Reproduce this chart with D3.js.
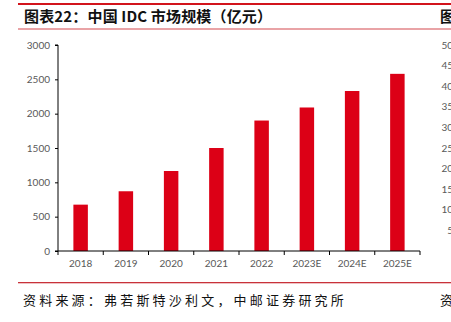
<!DOCTYPE html>
<html><head><meta charset="utf-8">
<script src="https://cdn.jsdelivr.net/npm/d3@7/dist/d3.min.js"></script>
<style>body{margin:0;background:#fff}svg{display:block}</style>
</head><body>
<script>
const categories = ["2018","2019","2020","2021","2022","2023E","2024E","2025E"];
const values = [675, 870, 1165, 1500, 1900, 2090, 2330, 2580];
const yTicks = [0, 500, 1000, 1500, 2000, 2500, 3000];
const rightTicks = [5, 10, 15, 20, 25, 30, 35, 40, 45, 50];
const title = "图表22：中国 IDC 市场规模（亿元）";
const source = "资料来源：弗若斯特沙利文，中邮证券研究所";

const W = 451, H = 322;
const svg = d3.select("body").append("svg").attr("width", W).attr("height", H);

// header lines
svg.append("rect").attr("x", 18).attr("y", 3).attr("width", W - 18).attr("height", 2).attr("fill", "#d2141c");
svg.append("rect").attr("x", 18).attr("y", 28).attr("width", W - 18).attr("height", 2).attr("fill", "#e9a3a6");
svg.append("text").attr("x", 24).attr("y", 22).text(title)
  .attr("textLength", 248).attr("lengthAdjust", "spacing")
  .attr("font-family", "'Noto Sans CJK SC'").attr("font-weight", "bold").attr("font-size", 15).attr("fill", "#111");
svg.append("text").attr("x", 440).attr("y", 22).text("图")
  .attr("font-family", "'Noto Sans CJK SC'").attr("font-weight", "bold").attr("font-size", 15).attr("fill", "#111");

// footer
svg.append("rect").attr("x", 18).attr("y", 282).attr("width", W - 18).attr("height", 1.3).attr("fill", "#c8323a");
svg.append("text").attr("x", 23).attr("y", 305).text(source)
  .attr("font-family", "'Noto Sans CJK SC'").attr("font-size", 13).attr("letter-spacing", 3.2).attr("fill", "#111");
svg.append("text").attr("x", 440).attr("y", 305).text("资")
  .attr("font-family", "'Noto Sans CJK SC'").attr("font-size", 13).attr("fill", "#111");

const x = d3.scaleBand().domain(categories).range([58, 420]).paddingInner(0.68).paddingOuter(0.34);
const y = d3.scaleLinear().domain([0, 3000]).range([251, 45]);

// bars
svg.append("g").selectAll("rect").data(values).join("rect")
  .attr("x", (d, i) => x(categories[i]))
  .attr("width", x.bandwidth())
  .attr("y", d => y(d))
  .attr("height", d => y(0) - y(d))
  .attr("fill", "#dc0016");

// y axis
const ya = svg.append("g").attr("transform", "translate(58,0)")
  .call(d3.axisLeft(y).tickValues(yTicks).tickSize(3).tickPadding(5).tickFormat(d3.format("d")));
ya.select(".domain").attr("stroke", "#000").attr("d", "M-3," + y(3000) + "H0V" + y(0) + "H-3");
ya.selectAll(".tick line").attr("stroke", "#000");
ya.selectAll("text").attr("font-family", "Lato, 'Open Sans', sans-serif").attr("font-size", 10).attr("fill", "#595959");

// x axis
const xa = svg.append("g").attr("transform", "translate(0,251)")
  .call(d3.axisBottom(x).tickSize(0).tickPadding(9));
xa.select(".domain").attr("stroke", "#000").attr("d", "M58,0H420");
xa.selectAll("text").attr("font-family", "Lato, 'Open Sans', sans-serif").attr("font-size", 10).attr("fill", "#595959");
const bounds = d3.range(categories.length + 1).map(i => 58 + i * (362 / categories.length));
xa.selectAll(".bnd").data(bounds).join("line").attr("class", "bnd")
  .attr("x1", d => d).attr("x2", d => d).attr("y1", 0).attr("y2", 4).attr("stroke", "#000");

// right neighbouring chart fragment axis labels (cut by the page edge, as in the source)
const y2 = d3.scaleLinear().domain([0, 50]).range([251, 45]);
svg.append("g").selectAll("text").data(rightTicks).join("text")
  .attr("x", 453).attr("y", d => y2(d)).attr("dy", "0.35em").attr("text-anchor", "end")
  .attr("font-family", "Lato, 'Open Sans', sans-serif").attr("font-size", 10).attr("fill", "#595959")
  .text(d => d);
</script>
</body></html>
